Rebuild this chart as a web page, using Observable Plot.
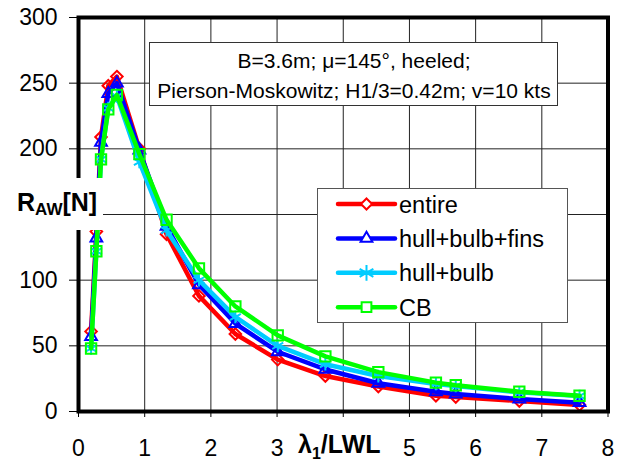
<!DOCTYPE html>
<html>
<head>
<meta charset="utf-8">
<script src="https://cdn.jsdelivr.net/npm/d3@7"></script>
<script src="https://cdn.jsdelivr.net/npm/@observablehq/plot@0.6"></script>
<style>
  body { margin: 0; background: #fff; }
  #chart svg { overflow: visible; }
</style>
</head>
<body>
<div id="chart"></div>
<script>
// ---- data ----
const lambdaRatio = [0.19, 0.27, 0.34, 0.45, 0.58, 0.92, 1.33, 1.82, 2.37, 3.01, 3.73, 4.53, 5.40, 5.70, 6.66, 7.57];
const entire      = [61, 137, 209, 248, 255, 200, 135, 88, 59, 39.5, 27, 19, 12, 11, 8, 5];
const hullBulbFins= [57, 132, 205, 242, 250, 199, 141, 96.5, 67, 45.5, 32, 21.5, 15, 13.3, 9.5, 6.7];
const hullBulb    = [48, 122, 192, 231, 240, 190, 138, 100, 72, 50, 36, 27, 21, 19.4, 14.6, 11.8];
const cbSeries    = [48, 122, 192, 230, 241, 196, 146, 109, 80, 58, 42, 30, 22, 20, 15, 12];
const seriesNames = ["entire", "hull+bulb+fins", "hull+bulb", "CB"];
const seriesValues = [entire, hullBulbFins, hullBulb, cbSeries];
const xTicks = [0, 1, 2, 3, 4, 5, 6, 7, 8];
const xTickLabelsHidden = [4]; // covered by the axis title in the reference
const yTicks = [0, 50, 100, 150, 200, 250, 300];
const annotationLines = ["B=3.6m; μ=145°, heeled;", "Pierson-Moskowitz; H1/3=0.42m; v=10 kts"];

// ---- styles ----
const colors  = ["#ff0000", "#0000ff", "#00ccff", "#00ff00"];
const symbols = ["diamond2", "triangle2", "asterisk", "square2"];
const radii   = [5.2, 5.6, 6, 6.6];
const FONT = "'Liberation Sans', Arial, sans-serif";

const rows = seriesNames.map((name, i) =>
  lambdaRatio.map((x, j) => ({series: name, x, y: seriesValues[i][j]})));

const marks = [
  Plot.gridX(xTicks, {stroke: "#222", strokeOpacity: 1, strokeWidth: 1}),
  Plot.gridY(yTicks, {stroke: "#222", strokeOpacity: 1, strokeWidth: 1}),
];
rows.forEach((data, i) => {
  marks.push(Plot.line(data, {x: "x", y: "y", stroke: colors[i], strokeWidth: 4.5, strokeLinejoin: "round", strokeLinecap: "round"}));
  marks.push(Plot.dot(data, {x: "x", y: "y", symbol: symbols[i], r: radii[i], stroke: colors[i], strokeWidth: 2, fill: "none"}));
});
marks.push(
  Plot.axisX({ticks: xTicks, tickSize: 6, tickPadding: 22, fontSize: 23, label: null,
    tickFormat: d => xTickLabelsHidden.includes(d) ? "" : String(d)}),
  Plot.axisY({ticks: yTicks, tickSize: 9, tickPadding: 12, fontSize: 23, label: null}),
  Plot.frame({stroke: "#000", strokeWidth: 4})
);

const W = 624, H = 463;
const svgEl = Plot.plot({
  width: W, height: H,
  marginLeft: 78, marginRight: 16.5, marginTop: 17, marginBottom: 52,
  x: {domain: [0, 8]},
  y: {domain: [0, 300]},
  style: {fontFamily: FONT, fontSize: "23px", background: "#fff", color: "#000"},
  marks
});
document.getElementById("chart").appendChild(svgEl);

// ---- overlays: axis titles, annotation box, legend ----
const svg = d3.select(svgEl);

function txt(g, x, y, size, anchor) {
  return g.append("text").attr("x", x).attr("y", y)
    .attr("font-family", FONT).attr("font-size", size).attr("fill", "#000")
    .attr("text-anchor", anchor || "start").style("text-anchor", anchor || "start");
}

// y title with white background
const yt = svg.append("g");
yt.append("rect").attr("x", 0).attr("y", 178).attr("width", 103).attr("height", 52).attr("fill", "#fff");
const ytxt = txt(yt, 17, 211, 25).attr("font-weight", "bold");
ytxt.append("tspan").text("R");
ytxt.append("tspan").attr("font-size", 17).attr("dy", 4).text("AW");
ytxt.append("tspan").attr("dy", -4).text("[N]");

// x title with white background
const xt = svg.append("g");
xt.append("rect").attr("x", 295).attr("y", 430).attr("width", 95).attr("height", 33).attr("fill", "#fff");
const xtxt = txt(xt, 298, 453, 25).attr("font-weight", "bold");
xtxt.append("tspan").text("λ");
xtxt.append("tspan").attr("font-size", 16).attr("dy", 6).text("1");
xtxt.append("tspan").attr("dy", -6).text("/LWL");

// annotation box
const ab = svg.append("g");
ab.append("rect").attr("x", 149.5).attr("y", 42.5).attr("width", 408).attr("height", 63)
  .attr("fill", "#fff").attr("stroke", "#333").attr("stroke-width", 1);
annotationLines.forEach((t, i) => {
  txt(ab, 354, 67.5 + i * 30, 21, "middle").text(t);
});

// legend
const lg = svg.append("g");
lg.append("rect").attr("x", 317.5).attr("y", 188.5).attr("width", 250).attr("height", 134)
  .attr("fill", "#fff").attr("stroke", "#555").attr("stroke-width", 1);
const symMap = {diamond2: d3.symbolDiamond2, triangle2: d3.symbolTriangle2, asterisk: d3.symbolAsterisk, square2: d3.symbolSquare2};
const legendRadii = [5, 5.6, 7.5, 6.2];
seriesNames.forEach((name, i) => {
  const y = 204 + i * 34.4;
  lg.append("line").attr("x1", 338).attr("x2", 395).attr("y1", y).attr("y2", y)
    .attr("stroke", colors[i]).attr("stroke-width", 4.5).attr("stroke-linecap", "round");
  lg.append("path").attr("transform", `translate(366.5,${y})`)
    .attr("d", d3.symbol(symMap[symbols[i]], Math.PI * legendRadii[i] * legendRadii[i])())
    .attr("fill", i === 2 ? "none" : "#fff").attr("stroke", colors[i]).attr("stroke-width", 2);
  txt(lg, 399, y + 8.5, 23.5).text(name);
});
</script>
</body>
</html>
